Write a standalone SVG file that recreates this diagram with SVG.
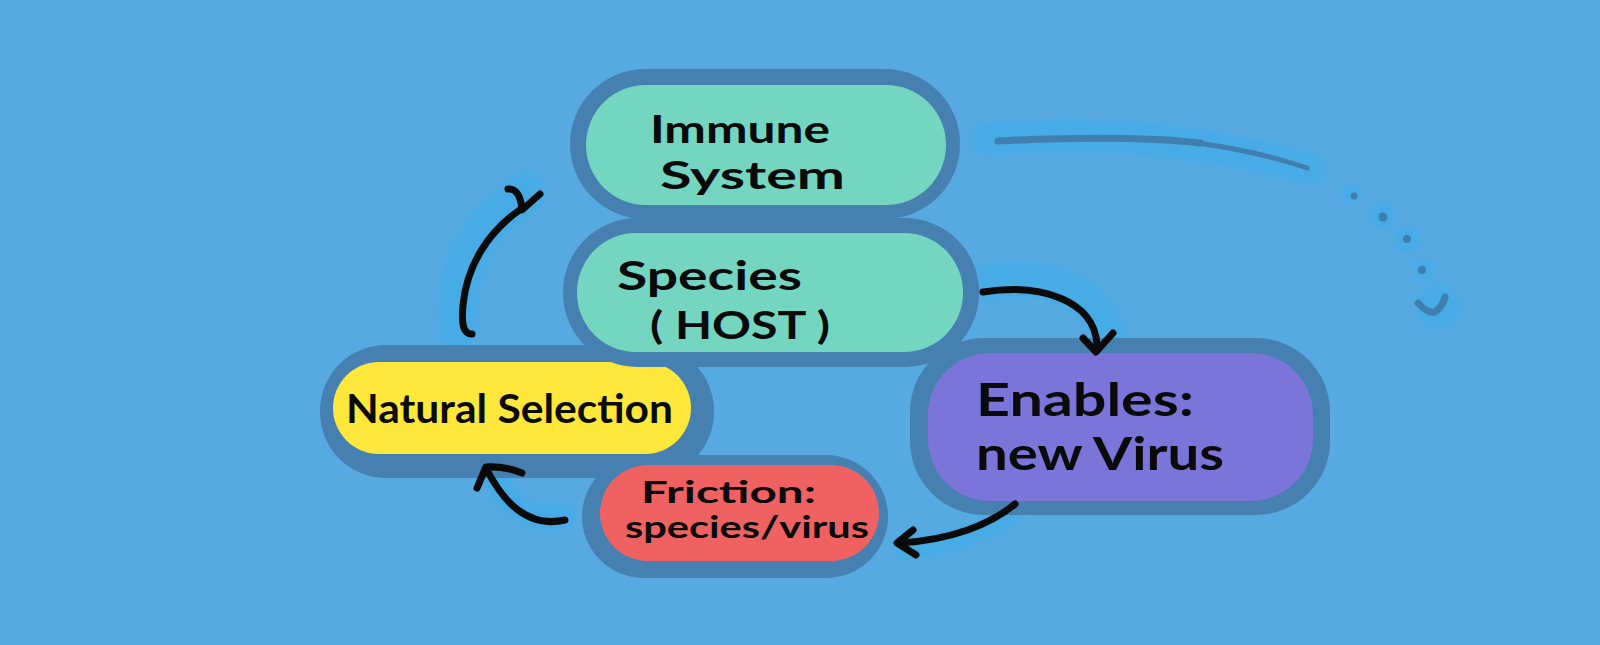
<svg xmlns="http://www.w3.org/2000/svg" width="1600" height="645" viewBox="0 0 1600 645">
<defs>
<filter id="soft" x="-20%" y="-20%" width="140%" height="140%"><feGaussianBlur stdDeviation="2.5"/></filter>
</defs>
<style>
.bg{fill:#56a9e1}
.glow{fill:none;stroke:#47abe6;stroke-linecap:round;stroke-linejoin:round}
.gdot{fill:#47abe6}
.edge{fill:#4680b0}
.lbl{font-family:Lato,"Open Sans","Liberation Sans",sans-serif;font-weight:700;fill:#0a0a0a}
.conn{fill:none;stroke:#0a0a0a;stroke-width:7;stroke-linecap:round;stroke-linejoin:round}
.deco{fill:none;stroke:#3f7eaf;stroke-linecap:round;stroke-linejoin:round}
</style>
<rect class="bg" x="0" y="0" width="1600" height="645"/>
<g id="glows" filter="url(#soft)">
<path class="glow" stroke-width="40" d="M458,328 C452,272 478,222 526,193"/>
<path class="glow" stroke-width="36" d="M985,282 C1045,272 1102,292 1108,338"/>
<path class="glow" stroke-width="26" d="M562,516 C528,522 505,500 490,470"/>
<path class="glow" stroke-width="22" d="M1012,512 C985,532 950,545 905,548"/>
<path class="glow" stroke-width="32" d="M986,139 C1100,131 1200,139 1310,169"/>
<circle class="gdot" cx="1351" cy="194" r="10"/>
<circle class="gdot" cx="1382" cy="216" r="13"/>
<circle class="gdot" cx="1407" cy="240" r="13"/>
<circle class="gdot" cx="1424" cy="271" r="11"/>
<circle class="gdot" cx="1438" cy="307" r="22"/>
</g>
<g id="node-natural-selection">
<rect class="edge" x="320" y="345" width="394" height="133" rx="66"/>
<rect x="333" y="362" width="358" height="92" rx="46" fill="#ffe83b"/>
<text class="lbl" x="346" y="423" font-size="40" textLength="327" lengthAdjust="spacingAndGlyphs">Natural Selection</text>
</g>
<g id="node-species">
<rect class="edge" x="563" y="218" width="416" height="149" rx="74"/>
<rect x="577" y="233" width="386" height="119" rx="59" fill="#74d6c0"/>
<text class="lbl" x="617" y="290" font-size="40" textLength="185" lengthAdjust="spacingAndGlyphs">Species</text>
<text class="lbl" x="650" y="339" font-size="38" textLength="180" lengthAdjust="spacingAndGlyphs">( HOST )</text>
</g>
<g id="node-immune-system">
<rect class="edge" x="570" y="69" width="390" height="150" rx="75"/>
<rect x="586" y="85" width="360" height="120" rx="60" fill="#74d6c0"/>
<text class="lbl" x="650" y="143" font-size="38" textLength="180" lengthAdjust="spacingAndGlyphs">Immune</text>
<text class="lbl" x="660" y="189" font-size="38" textLength="185" lengthAdjust="spacingAndGlyphs">System</text>
</g>
<g id="node-friction">
<rect class="edge" x="582" y="455" width="306" height="123" rx="62"/>
<rect x="600" y="465" width="279" height="96" rx="48" fill="#f06262"/>
<text class="lbl" x="641" y="503" font-size="30" textLength="175" lengthAdjust="spacingAndGlyphs">Friction:</text>
<text class="lbl" x="625" y="538" font-size="30" textLength="244" lengthAdjust="spacingAndGlyphs">species/virus</text>
</g>
<g id="node-enables">
<rect class="edge" x="910" y="338" width="420" height="177" rx="74"/>
<rect x="928" y="353" width="385" height="148" rx="62" fill="#7b75da"/>
<text class="lbl" x="976" y="416" font-size="46" textLength="218" lengthAdjust="spacingAndGlyphs">Enables:</text>
<text class="lbl" x="976" y="470" font-size="46" textLength="248" lengthAdjust="spacingAndGlyphs">new Virus</text>
</g>
<g id="connectors">
<path class="conn" stroke-width="8" d="M472,334 C464,334 461,326 463,305 C467,265 488,232 521,209"/>
<path class="conn" d="M508,189 C516,188 521,196 522,210 L540,194"/>
<path class="conn" d="M983,292 C1040,283 1095,300 1097,345"/>
<path class="conn" stroke-width="8" d="M1083,338 L1096,352 L1113,333"/>
<path class="conn" d="M1015,504 C990,525 950,540 900,543"/>
<path class="conn" stroke-width="8" d="M913,530 L897,543 L916,555"/>
<path class="conn" d="M565,520 C530,528 505,505 487,470"/>
<path class="conn" stroke-width="8" d="M477,488 L486,467 Q505,466 522,473"/>
</g>
<g id="decoration">
<path class="deco" stroke-width="7" d="M998,141 C1060,138 1140,136 1200,143"/>
<path class="deco" stroke-width="5" d="M1198,143 C1240,149 1275,157 1307,168"/>
<circle cx="1354" cy="196" r="3.5" fill="#3f7eaf"/>
<circle cx="1383" cy="217" r="4.5" fill="#3f7eaf"/>
<circle cx="1407" cy="239" r="4" fill="#3f7eaf"/>
<circle cx="1422" cy="270" r="4" fill="#3f7eaf"/>
<path class="deco" stroke-width="7" d="M1418,303 Q1428,314 1435,312 Q1443,306 1445,297"/>
</g>
</svg>
